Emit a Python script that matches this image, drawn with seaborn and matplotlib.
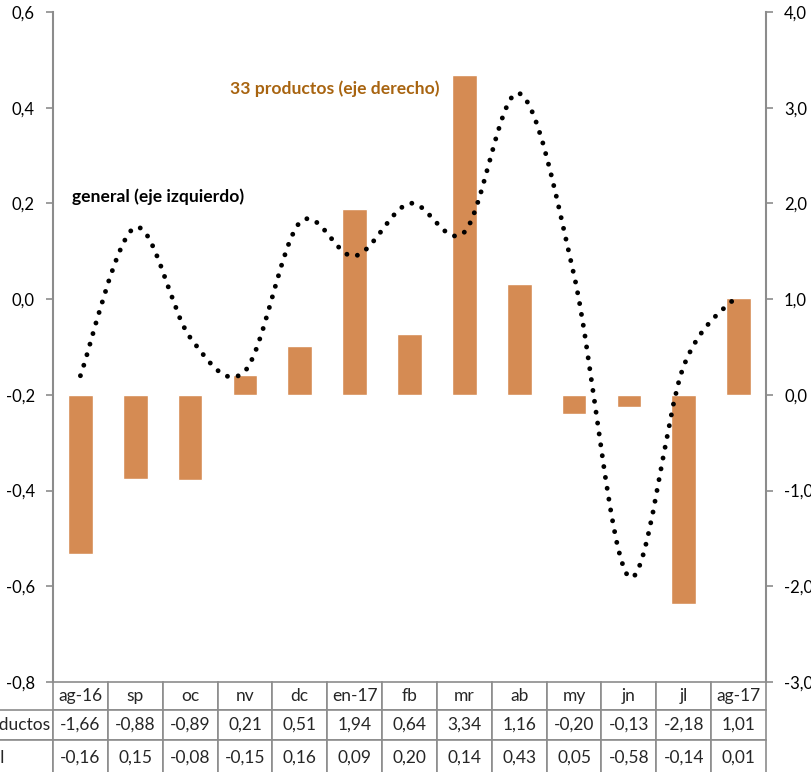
import numpy as np
import pandas as pd
import seaborn as sns
import matplotlib
matplotlib.use("Agg")
import matplotlib.pyplot as plt
from matplotlib.path import Path
from matplotlib.patches import PathPatch

# Data
meses = ["ag-16", "sp", "oc", "nv", "dc", "en-17", "fb", "mr", "ab", "my", "jn", "jl", "ag-17"]
productos = [-1.66, -0.88, -0.89, 0.21, 0.51, 1.94, 0.64, 3.34, 1.16, -0.20, -0.13, -2.18, 1.01]
general = [-0.16, 0.15, -0.08, -0.15, 0.16, 0.09, 0.20, 0.14, 0.43, 0.05, -0.58, -0.14, 0.01]
etiquetas = ["33 productos", "general"]

left_ticks = [-0.8, -0.6, -0.4, -0.2, 0.0, 0.2, 0.4, 0.6]
right_ticks = [-3.0, -2.0, -1.0, 0.0, 1.0, 2.0, 3.0, 4.0]

BAR = "#D58B53"
GRAY = "#8C8C8C"
TXT_BROWN = "#A86410"

sns.set_style("white")
plt.rcParams["font.family"] = ["Lato", "DejaVu Sans"]

W, H = 812, 772
fig = plt.figure(figsize=(W / 100, H / 100), dpi=100)
x0, x1, y0, y1 = 53, 766, 12, 682
ax = fig.add_axes([x0 / W, 1 - y1 / H, (x1 - x0) / W, (y1 - y0) / H])
ax2 = ax.twinx()

df = pd.DataFrame({"mes": meses, "productos": productos})
sns.barplot(data=df, x="mes", y="productos", color=BAR, width=0.45,
            saturation=1, ax=ax2, zorder=1)

# smoothed line (Excel-like), Catmull-Rom converted to Bezier segments
pts = np.column_stack([np.arange(len(general)), general])
verts = [tuple(pts[0])]
codes = [Path.MOVETO]
n = len(pts)
for i in range(n - 1):
    p0 = pts[max(i - 1, 0)]
    p1 = pts[i]
    p2 = pts[i + 1]
    p3 = pts[min(i + 2, n - 1)]
    c1 = p1 + (p2 - p0) / 6
    c2 = p2 - (p3 - p1) / 6
    verts += [tuple(c1), tuple(c2), tuple(p2)]
    codes += [Path.CURVE4] * 3
patch = PathPatch(Path(verts, codes), fill=False, edgecolor="black", lw=3.5,
                  linestyle=(0, (0.01, 2.25)), capstyle="round", zorder=3)
ax.add_patch(patch)

ax.set_xlim(-0.5, len(meses) - 0.5)
ax2.set_xlim(-0.5, len(meses) - 0.5)
ax.set_ylim(-0.8, 0.6)
ax2.set_ylim(-3.0, 4.0)

ax.set_zorder(2)
ax2.set_zorder(1)
ax.patch.set_visible(False)

ax.set_yticks(left_ticks)
ax.set_yticklabels([f"{v:.1f}".replace(".", ",") for v in left_ticks])
ax2.set_yticks(right_ticks)
ax2.set_yticklabels([f"{v:.1f}".replace(".", ",") for v in right_ticks])
for a in (ax, ax2):
    a.set_xticks([])
    a.set_xlabel("")
    a.set_ylabel("")
    for s in a.spines.values():
        s.set_visible(False)
    a.tick_params(axis="y", length=5, width=1.2, color=GRAY, labelsize=12,
                  labelcolor="black", pad=8)
ax.spines["left"].set_visible(True)
ax.spines["left"].set_color(GRAY)
ax.spines["left"].set_linewidth(1.5)
ax2.spines["right"].set_visible(True)
ax2.spines["right"].set_color(GRAY)
ax2.spines["right"].set_linewidth(1.5)
ax.tick_params(axis="y", left=True, right=False)
ax2.tick_params(axis="y", right=True, left=False)

ax.text(0.248, 0.886, "33 productos (eje derecho)", transform=ax.transAxes,
        color=TXT_BROWN, fontsize=12.6, fontweight="bold", ha="left", va="center")
ax.text(0.027, 0.725, "general (eje izquierdo)", transform=ax.transAxes,
        color="black", fontsize=12.6, fontweight="bold", ha="left", va="center")

# data table below the plot
fmt = lambda v: f"{v:.2f}".replace(".", ",")
cell_text = [[""] + meses,
             [etiquetas[0]] + [fmt(v) for v in productos],
             [etiquetas[1]] + [fmt(v) for v in general]]
lab_w = 109 / (x1 - x0)
col_w = 1 / len(meses)
tab_h = 94 / (y1 - y0)
tbl = ax.table(cellText=cell_text, colWidths=[lab_w] + [col_w] * len(meses),
               bbox=[-lab_w, -tab_h, 1 + lab_w, tab_h], cellLoc="center")
tbl.auto_set_font_size(False)
tbl.set_fontsize(12.5)
for (r, c), cell in tbl.get_celld().items():
    cell.set_edgecolor(GRAY)
    cell.set_linewidth(1.2)
    cell.set_clip_on(False)
    if c == 0:
        cell.get_text().set_ha("left")
        cell._loc = "left"
        cell.PAD = 0.04
        if r == 0:
            cell.visible_edges = ""
        else:
            cell.visible_edges = "BTR"
heights = [28, 30, 36]
for (r, c), cell in tbl.get_celld().items():
    cell.set_height(heights[r] / (y1 - y0))

fig.savefig("out.png", dpi=100)
